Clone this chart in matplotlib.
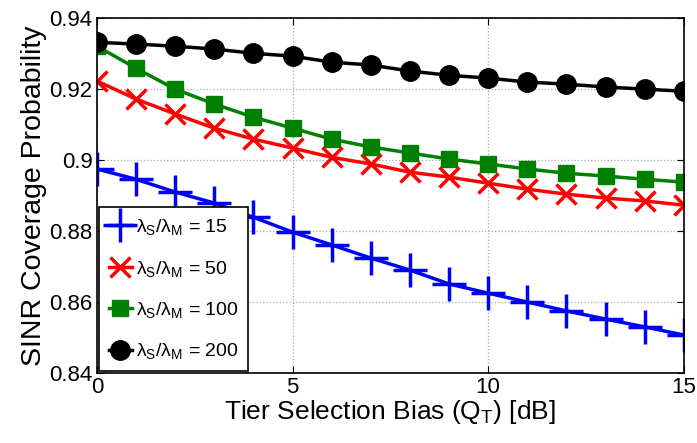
import numpy as np
import matplotlib.pyplot as plt

plt.rcParams['font.family'] = ['Liberation Sans', 'DejaVu Sans']
plt.rcParams['mathtext.fontset'] = 'custom'
plt.rcParams['mathtext.rm'] = 'Liberation Sans'
plt.rcParams['mathtext.it'] = 'Liberation Sans'

bias = np.arange(0, 16)
p15 = [0.8975, 0.8946, 0.8910, 0.8879, 0.8839, 0.8797, 0.8761, 0.8724,
       0.8690, 0.8651, 0.8625, 0.8600, 0.8575, 0.8552, 0.8530, 0.8507]
p50 = [0.9223, 0.9172, 0.9130, 0.9090, 0.9059, 0.9034, 0.9008, 0.8989,
       0.8966, 0.8952, 0.8935, 0.8918, 0.8904, 0.8893, 0.8885, 0.8873]
p100 = [0.9321, 0.9259, 0.9200, 0.9158, 0.9121, 0.9090, 0.9059, 0.9037,
        0.9020, 0.9003, 0.8989, 0.8975, 0.8963, 0.8955, 0.8946, 0.8938]
p200 = [0.9332, 0.9327, 0.9321, 0.9313, 0.9301, 0.9293, 0.9276, 0.9268,
        0.9251, 0.9239, 0.9231, 0.9220, 0.9214, 0.9206, 0.9200, 0.9194]
labels = [r'$\mathregular{\lambda_S/\lambda_M}$ = 15',
          r'$\mathregular{\lambda_S/\lambda_M}$ = 50',
          r'$\mathregular{\lambda_S/\lambda_M}$ = 100',
          r'$\mathregular{\lambda_S/\lambda_M}$ = 200']

fig = plt.figure(figsize=(6.97, 4.43), dpi=100)
ax = fig.add_axes([0.139, 0.158, 0.842, 0.801])

ax.plot(bias, p15, color='#0000ff', lw=2.5, marker='+', ms=24, mew=2.5, label=labels[0])
ax.plot(bias, p50, color='#ff0000', lw=2.5, marker='x', ms=15, mew=2.5, label=labels[1])
ax.plot(bias, p100, color='#008000', lw=2.5, marker='s', ms=11, label=labels[2])
ax.plot(bias, p200, color='#000000', lw=2.5, marker='o', ms=14, label=labels[3])

ax.set_xlim(0, 15)
ax.set_ylim(0.84, 0.94)
ax.set_xticks([0, 5, 10, 15])
ax.set_yticks([0.84, 0.86, 0.88, 0.9, 0.92, 0.94])
ax.set_yticklabels(['0.84', '0.86', '0.88', '0.9', '0.92', '0.94'])
ax.tick_params(direction='in', top=True, right=True, labelsize=16, length=5, pad=3)
ax.grid(True, linestyle=':', color='#aaaaaa', lw=0.9)
for s in ax.spines.values():
    s.set_linewidth(1.2)

ax.set_xlabel(r'Tier Selection Bias (Q$_\mathregular{T}$) [dB]', fontsize=19, labelpad=0)
ax.set_ylabel('SINR Coverage Probability', fontsize=20.5, labelpad=2)

leg = ax.legend(loc='lower left', fontsize=14, handlelength=1.2, handletextpad=0.2,
                borderpad=0.5, labelspacing=1.1, fancybox=False, edgecolor='black',
                framealpha=1, borderaxespad=0.1)
leg.get_frame().set_linewidth(1.2)

fig.savefig('out.png', dpi=100)
